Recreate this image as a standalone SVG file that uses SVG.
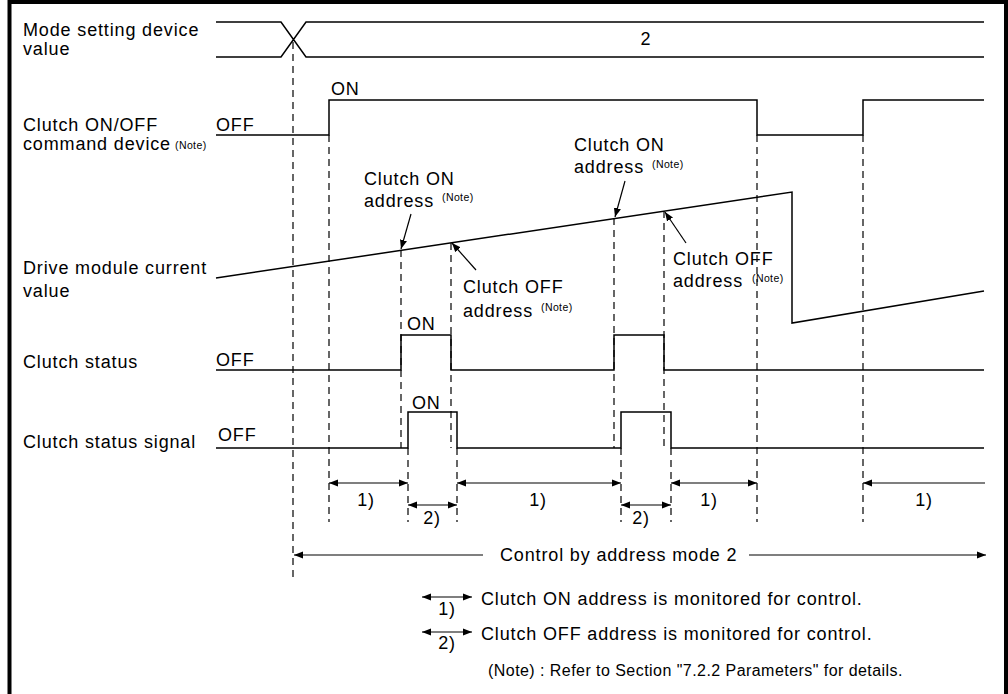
<svg xmlns="http://www.w3.org/2000/svg" width="1008" height="694" viewBox="0 0 1008 694">
<style>
text{font-family:"Liberation Sans",Arial,sans-serif;fill:#000}
.t{font-size:18px;letter-spacing:0.85px}
.m{text-anchor:middle}
.n{font-size:10.5px;letter-spacing:0.4px}
.s{font-size:16px;letter-spacing:0.45px}
.w{fill:none;stroke:#000;stroke-width:1.5}
.d{fill:none;stroke:#000;stroke-width:1.2;stroke-dasharray:7 5}
.a{fill:none;stroke:#000;stroke-width:1.2}
.e{marker-end:url(#ah)}
.b{marker-start:url(#ah);marker-end:url(#ah)}
.st{marker-start:url(#ah)}
</style>
<defs>
<marker id="ah" viewBox="0 0 10 8" refX="10" refY="4" markerWidth="9" markerHeight="8" markerUnits="userSpaceOnUse" orient="auto-start-reverse"><path d="M0,0L10,4L0,8z" fill="#000"/></marker>
</defs>
<rect x="0" y="0" width="1008" height="694" fill="#fff"/>
<path d="M9.5,696V2H1006V696" fill="none" stroke="#000" stroke-width="4"/>

<g id="mode-setting">
<text class="t" x="23" y="36">Mode setting device</text>
<text class="t" x="23" y="55">value</text>
<path class="w" d="M216,22H281L306,57H984M216,57H281L306,22H984"/>
<text class="t m" x="646" y="45">2</text>
</g>

<g id="clutch-command">
<text class="t" x="23" y="131">Clutch ON/OFF</text>
<text class="t" x="23" y="150">command device</text>
<text class="n" x="175" y="149">(Note)</text>
<text class="t" x="216" y="131">OFF</text>
<text class="t" x="331" y="95">ON</text>
<path class="w" d="M216,135H329V100H757V135H863V100H984"/>
</g>

<g id="drive-current">
<text class="t" x="23" y="274">Drive module current</text>
<text class="t" x="23" y="297">value</text>
<path class="w" d="M216,278L792,192V323L984,291"/>
</g>

<g id="clutch-status">
<text class="t" x="23" y="368">Clutch status</text>
<text class="t" x="216" y="366">OFF</text>
<text class="t" x="407" y="330">ON</text>
<path class="w" d="M216,370H401V335H451V370H614V335H664V370H984"/>
</g>

<g id="clutch-status-signal">
<text class="t" x="23" y="448">Clutch status signal</text>
<text class="t" x="218" y="441">OFF</text>
<text class="t" x="412" y="409">ON</text>
<path class="w" d="M216,448H408V412H457V448H621V412H671V448H984"/>
</g>

<g id="label-on-1">
<text class="t" x="364" y="185">Clutch ON</text>
<text class="t" x="364" y="207">address</text>
<text class="n" x="442" y="201">(Note)</text>
</g>
<g id="label-off-1">
<text class="t" x="463" y="293">Clutch OFF</text>
<text class="t" x="463" y="317">address</text>
<text class="n" x="541" y="311">(Note)</text>
</g>
<g id="label-on-2">
<text class="t" x="574" y="151">Clutch ON</text>
<text class="t" x="574" y="173">address</text>
<text class="n" x="652" y="168">(Note)</text>
</g>
<g id="label-off-2">
<text class="t" x="673" y="265">Clutch OFF</text>
<text class="t" x="673" y="287">address</text>
<text class="n" x="752" y="282">(Note)</text>
</g>

<g id="period-labels">
<text class="t m" x="366" y="506">1)</text>
<text class="t m" x="538" y="506">1)</text>
<text class="t m" x="709" y="506">1)</text>
<text class="t m" x="924" y="506">1)</text>
<text class="t m" x="432" y="524">2)</text>
<text class="t m" x="641" y="524">2)</text>
<text class="t" x="500" y="561">Control by address mode 2</text>
</g>

<g id="legend">
<path class="a b" d="M422,597H472"/>
<text class="t m" x="447" y="615">1)</text>
<text class="t" x="481" y="605">Clutch ON address is monitored for control.</text>
<path class="a b" d="M422,632H472"/>
<text class="t m" x="447" y="649">2)</text>
<text class="t" x="481" y="640">Clutch OFF address is monitored for control.</text>
<text class="s" x="488" y="676">(Note) : Refer to Section "7.2.2 Parameters" for details.</text>
</g>

<g id="connectors">
<path class="d" d="M293,42V580M329,135V522M401,250V448M451,243V448M408,448V522M457,448V522M614,218V448M664,211V448M621,448V522M671,448V522M757,135V522M863,135V522"/>
<path class="a e" d="M411,214L401,249"/>
<path class="a e" d="M476,270L452,243"/>
<path class="a e" d="M625,181L615,217"/>
<path class="a e" d="M686,243L665,212"/>
<path class="a b" d="M329,483H408"/>
<path class="a b" d="M457,483H621"/>
<path class="a b" d="M671,483H757"/>
<path class="a st" d="M863,483H985"/>
<path class="a b" d="M408,505H457"/>
<path class="a b" d="M621,505H671"/>
<path class="a st" d="M294,555H483"/>
<path class="a e" d="M749,555H986"/>
</g>
</svg>
